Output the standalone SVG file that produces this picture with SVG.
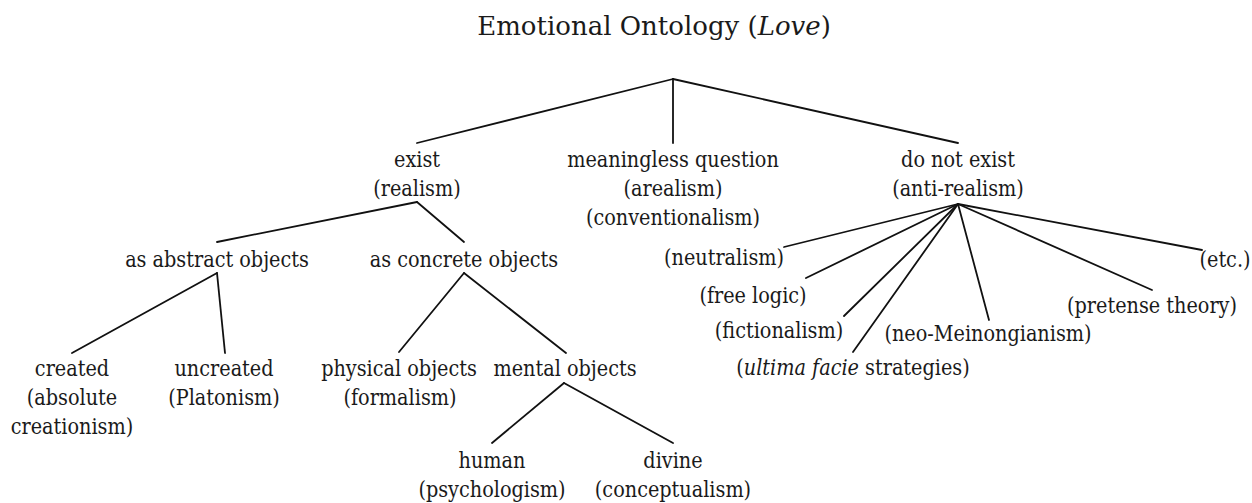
<svg xmlns="http://www.w3.org/2000/svg" width="1252" height="503" viewBox="0 0 1252 503">
<style>
text{font-family:"DejaVu Serif Condensed","DejaVu Serif",serif;font-stretch:condensed;font-size:21.4px;fill:#1a1a1a;text-anchor:middle}
.title{font-family:"DejaVu Serif",serif;font-stretch:normal;font-size:26px}
.it{font-style:italic}
.edges line{stroke:#111;stroke-width:1.8;stroke-linecap:round}
</style>
<rect width="1252" height="503" fill="#fff"/>
<g id="title"><text class="title" x="654" y="35">Emotional Ontology (<tspan class="it">Love</tspan>)</text></g>
<g class="edges" id="connectors">
<line x1="673" y1="79" x2="417" y2="143"/>
<line x1="673" y1="79" x2="673" y2="143"/>
<line x1="673" y1="79" x2="958" y2="143"/>
<line x1="417" y1="202" x2="217" y2="242"/>
<line x1="417" y1="202" x2="464" y2="242"/>
<line x1="217" y1="273" x2="72" y2="353"/>
<line x1="217" y1="273" x2="225" y2="353"/>
<line x1="464" y1="273" x2="399" y2="352"/>
<line x1="464" y1="273" x2="566" y2="353"/>
<line x1="564" y1="383" x2="492" y2="443"/>
<line x1="564" y1="383" x2="673" y2="443"/>
<line x1="958" y1="204" x2="784" y2="247"/>
<line x1="958" y1="204" x2="806" y2="278"/>
<line x1="958" y1="204" x2="844" y2="316"/>
<line x1="958" y1="204" x2="853" y2="352"/>
<line x1="958" y1="204" x2="989" y2="320"/>
<line x1="958" y1="204" x2="1152" y2="290"/>
<line x1="958" y1="204" x2="1202" y2="250"/>
</g>
<g id="exist"><text x="417" y="167">exist</text><text x="417" y="196">(realism)</text></g>
<g id="meaningless"><text x="673" y="167">meaningless question</text><text x="673" y="196">(arealism)</text><text x="673" y="225">(conventionalism)</text></g>
<g id="notexist"><text x="958" y="167">do not exist</text><text x="958" y="196">(anti-realism)</text></g>
<g id="abstract"><text x="217" y="267">as abstract objects</text></g>
<g id="concrete"><text x="464" y="267">as concrete objects</text></g>
<g id="created"><text x="72" y="376">created</text><text x="72" y="405">(absolute</text><text x="72" y="434">creationism)</text></g>
<g id="uncreated"><text x="224" y="376">uncreated</text><text x="224" y="405">(Platonism)</text></g>
<g id="physical"><text x="399" y="376">physical objects</text><text x="400" y="405">(formalism)</text></g>
<g id="mental"><text x="565" y="376">mental objects</text></g>
<g id="human"><text x="492" y="468">human</text><text x="492" y="497">(psychologism)</text></g>
<g id="divine"><text x="673" y="468">divine</text><text x="673" y="497">(conceptualism)</text></g>
<g id="neutralism"><text x="724" y="265">(neutralism)</text></g>
<g id="freelogic"><text x="753" y="303">(free logic)</text></g>
<g id="fictionalism"><text x="779" y="338">(fictionalism)</text></g>
<g id="ultima"><text x="853" y="375">(<tspan class="it">ultima facie</tspan> strategies)</text></g>
<g id="meinong"><text x="988" y="341">(neo-Meinongianism)</text></g>
<g id="pretense"><text x="1152" y="313">(pretense theory)</text></g>
<g id="etc"><text x="1225" y="267">(etc.)</text></g>
</svg>
